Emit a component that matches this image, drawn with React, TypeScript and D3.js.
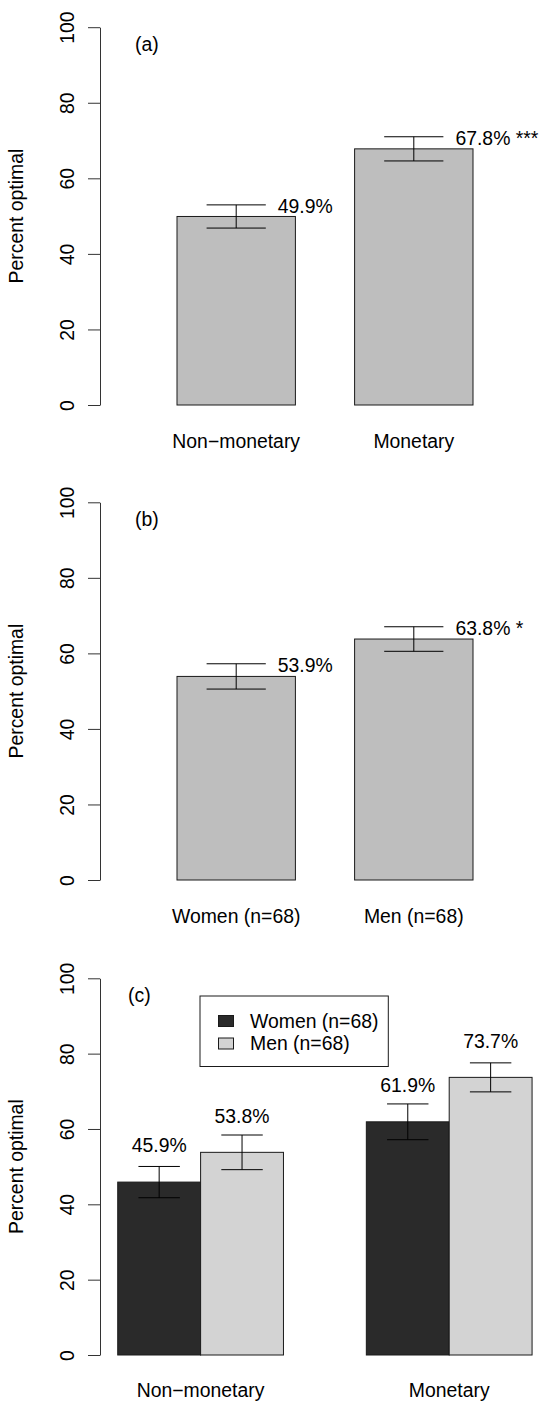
import { useEffect, useRef } from "react";
import * as d3 from "d3";

// panel (a)
const treatCats = ["Non\u2212monetary", "Monetary"];
const treatValues = [49.9, 67.8];
const treatErrors = [3.07, 3.2];
const treatLabels = ["49.9%", "67.8% ***"];

// panel (b)
const genderCats = ["Women (n=68)", "Men (n=68)"];
const genderValues = [53.9, 63.8];
const genderErrors = [3.35, 3.25];
const genderLabels = ["53.9%", "63.8% *"];

// panel (c)
const groupCats = ["Non\u2212monetary", "Monetary"];
const seriesNames = ["Women (n=68)", "Men (n=68)"];
const womenValues = [45.9, 61.9];
const menValues = [53.8, 73.7];
const womenErrors = [4.15, 4.75];
const menErrors = [4.6, 3.85];

const yTicks = [0, 20, 40, 60, 80, 100];

const FONT = "'Liberation Sans', Arial, Helvetica, sans-serif";
const FS = 19.4;

export default function App() {
  const ref = useRef<SVGSVGElement>(null);

  useEffect(() => {
    const svg = d3.select(ref.current);
    svg.selectAll("*").remove();

    const width = 539;
    const height = 1401;
    svg.attr("width", width).attr("height", height);

    const axisX = 100;

    const drawFrame = (zero: number, top: number, tag: string, tagX: number) => {
      const y = d3.scaleLinear().domain([0, 100]).range([zero, top]);

      const ax = svg
        .append("g")
        .attr("transform", `translate(${axisX},0)`)
        .call(d3.axisLeft(y).tickValues(yTicks).tickSize(12).tickSizeOuter(0));
      ax.select(".domain").attr("stroke", "#333");
      ax.selectAll(".tick line").attr("stroke", "#333");
      ax.selectAll(".tick text")
        .attr("x", null)
        .attr("dy", null)
        .attr("transform", "translate(-26,0) rotate(-90)")
        .attr("text-anchor", "middle")
        .attr("fill", "#000")
        .style("font-family", FONT)
        .style("font-size", FS + "px");

      svg.append("text")
        .attr("transform", `translate(23,${(zero + top) / 2}) rotate(-90)`)
        .attr("text-anchor", "middle")
        .style("font-family", FONT)
        .style("font-size", FS + "px")
        .text("Percent optimal");

      svg.append("text")
        .attr("x", tagX)
        .attr("y", y(93.6))
        .style("font-family", FONT)
        .style("font-size", FS + "px")
        .text(tag);

      return y;
    };

    const simplePanel = (
      cats: string[],
      values: number[],
      errors: number[],
      labels: string[],
      zero: number,
      top: number,
      tag: string
    ) => {
      const y = drawFrame(zero, top, tag, 135);
      const x = d3.scaleBand()
        .domain(cats)
        .range([147.4, 502.6])
        .paddingInner(1 / 3)
        .paddingOuter(1 / 6);
      const bw = x.bandwidth();

      cats.forEach((c, i) => {
        const x0 = x(c)!;
        const cx = x0 + bw / 2;
        svg.append("rect")
          .attr("x", x0)
          .attr("y", y(values[i]))
          .attr("width", bw)
          .attr("height", y(0) - y(values[i]))
          .attr("fill", "#bebebe")
          .attr("stroke", "#1a1a1a")
          .attr("stroke-width", 1);

        const hi = y(values[i] + errors[i]);
        const lo = y(values[i] - errors[i]);
        const cap = bw / 4;
        svg.append("line").attr("x1", cx).attr("x2", cx).attr("y1", hi).attr("y2", lo).attr("stroke", "#000");
        svg.append("line").attr("x1", cx - cap).attr("x2", cx + cap).attr("y1", hi).attr("y2", hi).attr("stroke", "#000");
        svg.append("line").attr("x1", cx - cap).attr("x2", cx + cap).attr("y1", lo).attr("y2", lo).attr("stroke", "#000");

        svg.append("text")
          .attr("x", cx + cap + 12)
          .attr("y", hi + 1.5)
          .attr("dy", "0.35em")
          .style("font-family", FONT)
          .style("font-size", FS + "px")
          .text(labels[i]);

        svg.append("text")
          .attr("x", cx)
          .attr("y", y(0) + 43.3)
          .attr("text-anchor", "middle")
          .style("font-family", FONT)
          .style("font-size", FS + "px")
          .text(c);
      });
    };

    simplePanel(treatCats, treatValues, treatErrors, treatLabels, 405, 27.2, "(a)");
    simplePanel(genderCats, genderValues, genderErrors, genderLabels, 880, 502.3, "(b)");

    // panel (c): grouped bars
    const y = drawFrame(1355, 978.3, "(c)", 128);
    const x0 = d3.scaleBand()
      .domain(groupCats)
      .range([76.3, 573.5])
      .paddingInner(1 / 3)
      .paddingOuter(1 / 6);
    const x1 = d3.scaleBand().domain(seriesNames).range([0, x0.bandwidth()]);
    const color = d3.scaleOrdinal<string, string>().domain(seriesNames).range(["#2a2a2a", "#d3d3d3"]);
    const seriesValues = [womenValues, menValues];
    const seriesErrors = [womenErrors, menErrors];
    const bw = x1.bandwidth();

    groupCats.forEach((g, gi) => {
      seriesNames.forEach((s, si) => {
        const v = seriesValues[si][gi];
        const e = seriesErrors[si][gi];
        const bx = x0(g)! + x1(s)!;
        const cx = bx + bw / 2;
        svg.append("rect")
          .attr("x", bx)
          .attr("y", y(v))
          .attr("width", bw)
          .attr("height", y(0) - y(v))
          .attr("fill", color(s))
          .attr("stroke", "#1a1a1a")
          .attr("stroke-width", 1);

        const hi = y(v + e);
        const lo = y(v - e);
        const cap = bw / 4;
        svg.append("line").attr("x1", cx).attr("x2", cx).attr("y1", hi).attr("y2", lo).attr("stroke", "#000");
        svg.append("line").attr("x1", cx - cap).attr("x2", cx + cap).attr("y1", hi).attr("y2", hi).attr("stroke", "#000");
        svg.append("line").attr("x1", cx - cap).attr("x2", cx + cap).attr("y1", lo).attr("y2", lo).attr("stroke", "#000");

        svg.append("text")
          .attr("x", cx)
          .attr("y", y(v + 9.7))
          .attr("dy", "0.35em")
          .attr("text-anchor", "middle")
          .style("font-family", FONT)
          .style("font-size", FS + "px")
          .text(v.toFixed(1) + "%");
      });

      svg.append("text")
        .attr("x", x0(g)! + x0.bandwidth() / 2)
        .attr("y", y(0) + 42)
        .attr("text-anchor", "middle")
        .style("font-family", FONT)
        .style("font-size", FS + "px")
        .text(g);
    });

    // legend
    const legend = svg.append("g").attr("transform", "translate(200,996)");
    legend.append("rect")
      .attr("width", 188.3)
      .attr("height", 70.5)
      .attr("fill", "#fff")
      .attr("stroke", "#1a1a1a");
    seriesNames.forEach((s, i) => {
      const ry = 25 + i * 22.5;
      legend.append("rect")
        .attr("x", 18.5)
        .attr("y", ry - 5.5)
        .attr("width", 15)
        .attr("height", 11)
        .attr("fill", color(s))
        .attr("stroke", "#1a1a1a");
      legend.append("text")
        .attr("x", 50)
        .attr("y", ry)
        .attr("dy", "0.35em")
        .style("font-family", FONT)
        .style("font-size", FS + "px")
        .text(s);
    });
  }, []);

  return <svg ref={ref} style={{ position: "absolute", left: 0, top: 0 }}></svg>;
}
